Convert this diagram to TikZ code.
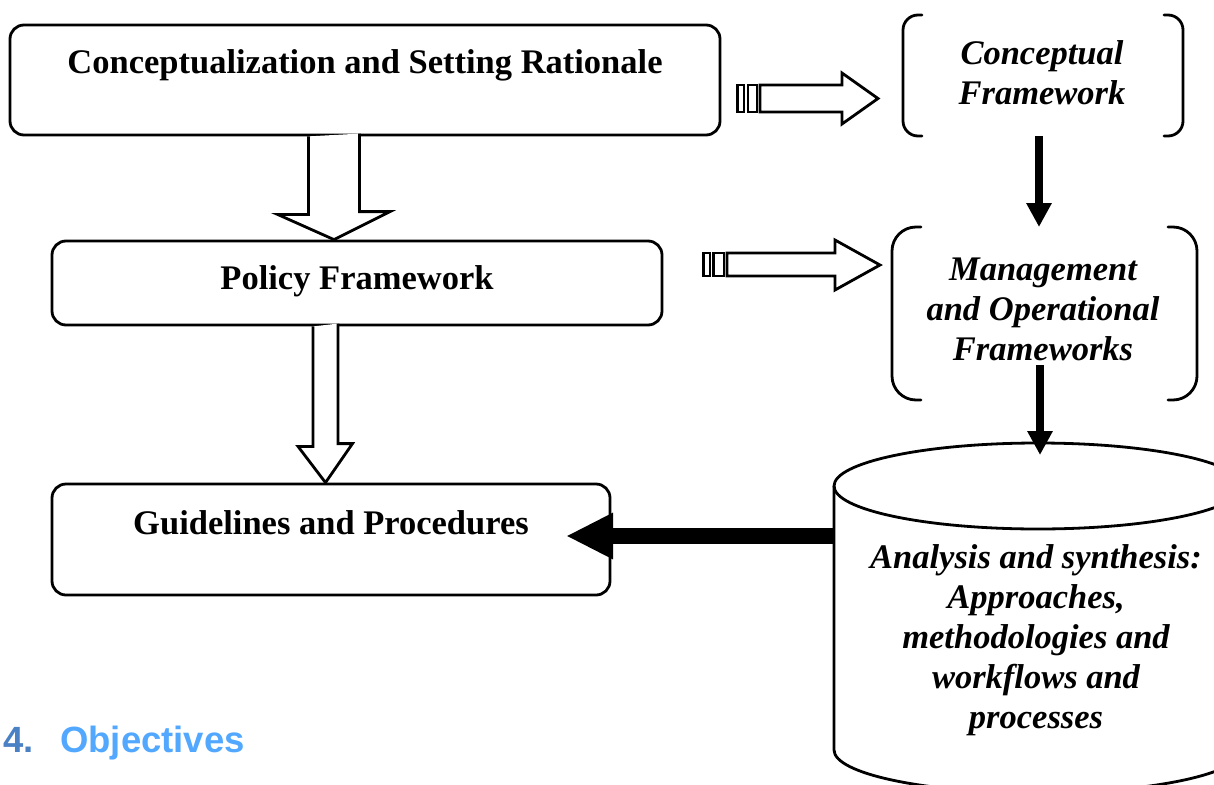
\documentclass[tikz,border=0pt]{standalone}
\usepackage{fontspec}
\setmainfont{Liberation Serif}
\newfontfamily\headfont{Liberation Sans}
\usetikzlibrary{arrows.meta}
\definecolor{numblue}{HTML}{4A80C4}
\definecolor{headblue}{HTML}{52A8FF}
\begin{document}
\begin{tikzpicture}[x=1pt,y=-1pt,
  box/.style={draw, line width=2.8pt, rounded corners=14pt, fill=white, inner sep=0pt},
  lbl/.style={font=\fontsize{34.5}{40}\selectfont\bfseries, align=center, inner sep=0pt},
  ilbl/.style={font=\fontsize{34.5}{40}\selectfont\bfseries\itshape, align=center, inner sep=0pt},
  region/.style={inner sep=0pt, outer sep=0pt},
  brk/.style={draw, line width=2.8pt, line cap=round},
  hollow/.style={draw, line width=2.8pt, fill=white, line join=miter},
  blackarrow/.style={line width=8.5pt, -{Triangle[width=24pt,length=24pt]}},
  cylline/.style={draw, line width=2.8pt},
  head/.style={font=\headfont\bfseries\fontsize{36.5}{40}\selectfont, inner sep=0pt, anchor=base west}]
\useasboundingbox (0,0) rectangle (1214,784);
\clip (0,0) rectangle (1214,784);

% left boxes
\node[box, minimum width=710pt, minimum height=110pt] (csr) at (365,80) {};
\node[lbl] (csrt) at (365,65) {Conceptualization and Setting Rationale};
\node[box, minimum width=610pt, minimum height=84pt] (pf) at (357,283) {};
\node[lbl] (pft) at (357,281) {Policy Framework};
\node[box, minimum width=558pt, minimum height=111pt] (gp) at (331,539.5) {};
\node[lbl] (gpt) at (331,523) {Guidelines and Procedures};

% bracket nodes
\node[region, minimum width=280pt, minimum height=121pt] (cfb) at (1043,75.5) {};
\node[ilbl] (cft) at (1042,73) {Conceptual\\Framework};
\draw[brk, rounded corners=15pt] ([xshift=19pt]cfb.north west) -| (cfb.south west) -- ++(19,0);
\draw[brk, rounded corners=15pt] ([xshift=-19pt]cfb.north east) -| (cfb.south east) -- ++(-19,0);

\node[region, minimum width=305pt, minimum height=173pt] (mofb) at (1044.5,313.5) {};
\node[ilbl] (moft) at (1043,309) {Management\\and Operational\\Frameworks};
\draw[brk, rounded corners=24pt] ([xshift=29pt]mofb.north west) -| (mofb.south west) -- ++(29,0);
\draw[brk, rounded corners=24pt] ([xshift=-29pt]mofb.north east) -| (mofb.south east) -- ++(-29,0);

% cylinder
\node[region, minimum width=408pt, minimum height=350pt] (cyl) at (1038,618) {};
\draw[cylline, fill=white] (cyl.west |- 0,486) -- (cyl.west |- 0,750)
  arc[start angle=180, end angle=360, x radius=204pt, y radius=43pt] -- (cyl.east |- 0,486);
\draw[cylline] (1038,486) ellipse [x radius=204pt, y radius=43pt];
\node[ilbl] (cylt) at (1036,640) {Analysis and synthesis:\\Approaches,\\methodologies and\\workflows and\\processes};

% hollow down arrows
\coordinate (h1) at (csr.south -| 334,0);
\draw[hollow] (h1) ++(-25.5,0) -- ++(0,78) -- ++(-31,0) -- (h1 |- pf.north) -- ++(56,-28) -- ++(-30.5,0) -- ++(0,-78);
\coordinate (h2) at (pf.south -| 325.5,0);
\draw[hollow] (h2) ++(-12.5,0) -- ++(0,120) -- ++(-15,0) -- (h2 |- gp.north) -- ++(27,-39) -- ++(-14.5,0) -- ++(0,-120);

% striped arrows
\draw[hollow] (760,85) -- (842,85) -- (842,73) -- (878,98.5) -- (842,124) -- (842,112) -- (760,112) -- cycle;
\draw[hollow] (737.5,85) rectangle (744,112);
\draw[hollow] (748,85) rectangle (757,112);
\draw[hollow] (727,253) -- (835,253) -- (835,240) -- (880,265) -- (835,290) -- (835,276) -- (727,276) -- cycle;
\draw[hollow] (703.5,253) rectangle (710,276);
\draw[hollow] (713.5,253) rectangle (724,276);

% black arrows
\draw[blackarrow] ([xshift=-4pt]cfb.south) -- ([xshift=-4pt]cfb.south |- mofb.north);
\draw[blackarrow] ([xshift=-4.5pt,yshift=35pt]mofb.south) -- ([xshift=2pt,yshift=-12pt]cyl.north);
\coordinate (gtip) at (566,536);
\draw[line width=16pt, -{Triangle[width=43pt,length=47pt]}] (cyl.west |- gtip) -- (gtip);

% heading
\node[head, text=numblue] (num) at (3,752) {4.};
\node[head, text=headblue] (obj) at (60,752) {Objectives};
\end{tikzpicture}
\end{document}
